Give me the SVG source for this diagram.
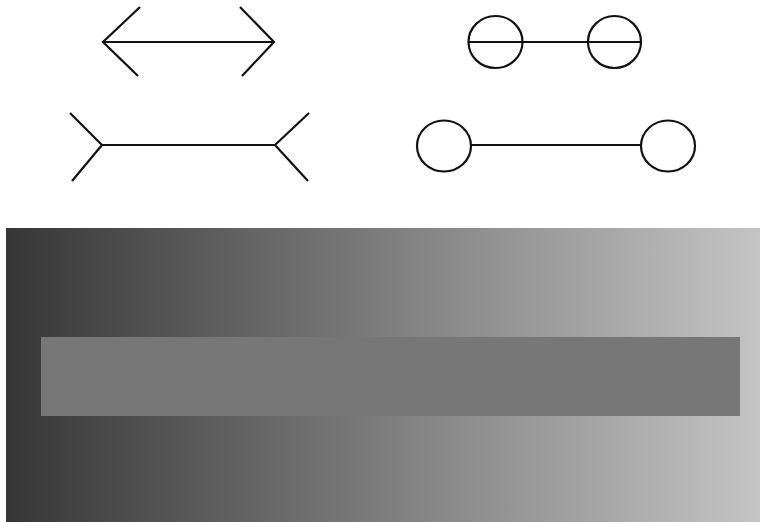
<svg xmlns="http://www.w3.org/2000/svg" width="760" height="522" viewBox="0 0 760 522">
<defs>
<style>
.s{fill:none;stroke:#111;stroke-width:2.2;stroke-linecap:butt;stroke-linejoin:miter}
</style>
<linearGradient id="g" x1="0" y1="0" x2="1" y2="0">
<stop offset="0" stop-color="#363636"/>
<stop offset="1" stop-color="#c4c4c4"/>
</linearGradient>
</defs>
<rect width="760" height="522" fill="#fff"/>
<g id="arrow-in">
<line class="s" x1="103" y1="42" x2="274" y2="42"/>
<polyline class="s" points="140,7 103,42 138,76"/>
<polyline class="s" points="240,7 274,42 242,76"/>
</g>
<g id="arrow-out">
<line class="s" x1="102" y1="145" x2="275" y2="145"/>
<polyline class="s" points="70,113 102,145 72,181"/>
<polyline class="s" points="309,113 275,145 308,181"/>
</g>
<g id="circles-small">
<line class="s" x1="468" y1="42" x2="641" y2="42"/>
<ellipse class="s" cx="495.5" cy="42" rx="27" ry="26"/>
<ellipse class="s" cx="614.5" cy="42" rx="26.5" ry="26"/>
</g>
<g id="circles-large">
<line class="s" x1="471" y1="145" x2="641" y2="145"/>
<ellipse class="s" cx="444" cy="146" rx="27" ry="25.5"/>
<ellipse class="s" cx="668" cy="146" rx="27" ry="25.5"/>
</g>
<g id="gradient">
<rect x="6" y="228" width="754" height="294" fill="url(#g)"/>
<rect x="41" y="337" width="699" height="79" fill="#777"/>
</g>
</svg>
